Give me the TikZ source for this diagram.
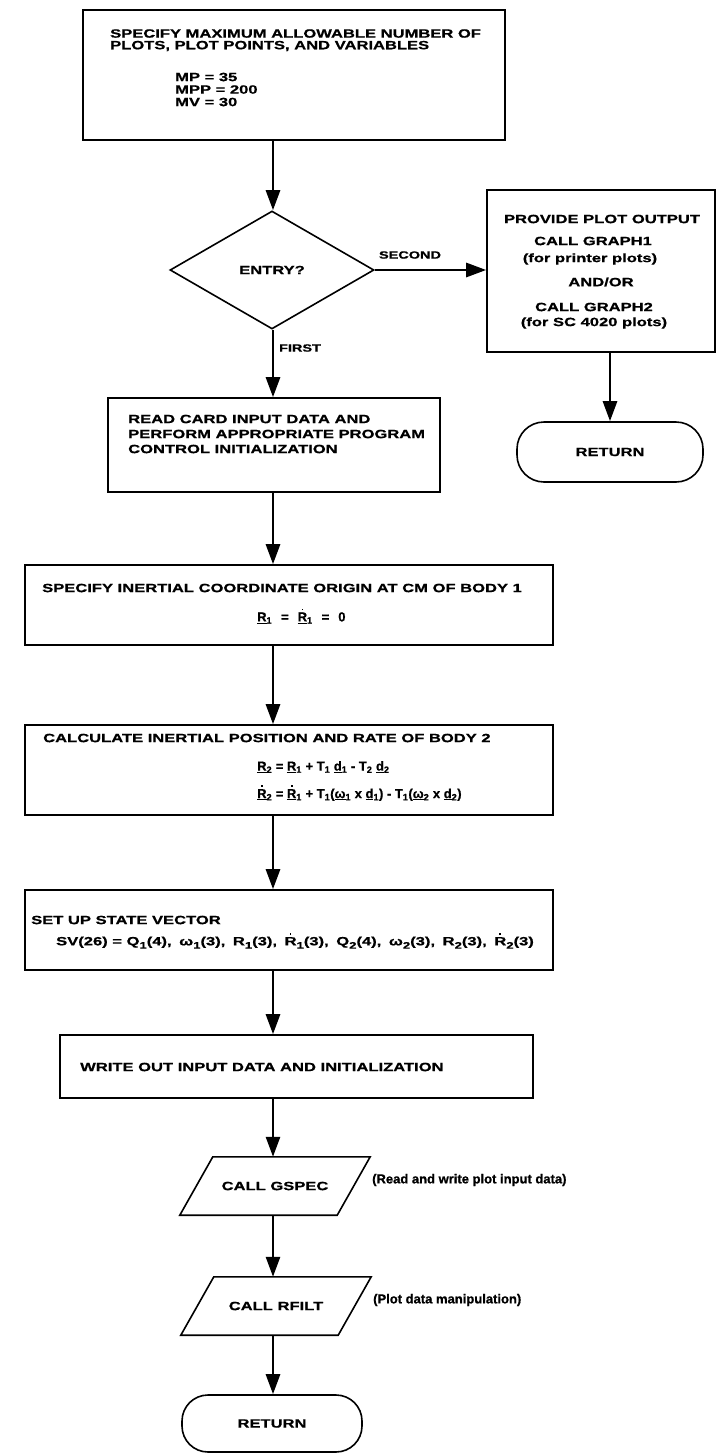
\documentclass[tikz,border=0pt]{standalone}
\usepackage{fontspec}
\setmainfont{Liberation Sans}[FakeStretch=1.38, BoldFeatures={FakeBold=0.8}]
\newfontfamily\plainfont{Liberation Sans}[BoldFeatures={FakeBold=0.8}]
\usetikzlibrary{arrows.meta,shapes.geometric,calc}
\newcommand\dotR{\leavevmode\setbox0\hbox{R}\rlap{\hbox to\wd0{\hss\raisebox{0.86em}{\rule{1.7pt}{1.7pt}}\hss}}R}
\newcommand\sub[1]{\textsubscript{#1}}
\newcommand\bsub[1]{\raisebox{-0.28em}{\fontsize{9.5}{10}\selectfont #1}}
\begin{document}
\begin{tikzpicture}[x=1pt,y=-1pt,
  font=\fontsize{12}{14}\selectfont\bfseries,
  box/.style={draw, line width=1.6pt, inner sep=0pt},
  flow/.style={line width=2.7pt, -{Triangle[length=20pt,width=14pt]}},
  txt/.style={inner sep=0pt, anchor=west},
  ctxt/.style={inner sep=0pt},
  small/.style={font=\fontsize{10.5}{12}\selectfont\bfseries},
  plain/.style={font=\plainfont\fontsize{13}{15}\selectfont\bfseries},
  plot/.style={line width=1.6pt}
]
\fill[white] (0,0) rectangle (719,1454);
\useasboundingbox (0,0) rectangle (719,1454);
\coordinate (ax) at (273,0);

% box 1
\node[box, minimum width=422, minimum height=130] (b1) at (294,75) {};
\node[txt] (b1t1) at (110,33.5) {SPECIFY MAXIMUM ALLOWABLE NUMBER OF};
\node[txt] (b1t2) at (110,46) {PLOTS, PLOT POINTS, AND VARIABLES};
\node[txt] (b1t3) at (175,77) {MP = 35};
\node[txt] (b1t4) at (175,89.5) {MPP = 200};
\node[txt] (b1t5) at (175,102) {MV = 30};

% decision
\node[box, diamond, minimum width=204, minimum height=118] (d) at (272,270) {ENTRY?};
\node[ctxt, small] (sec) at (410,255) {SECOND};
\node[ctxt, small] (fst) at (300,348) {FIRST};

% plot output box
\node[box, minimum width=228, minimum height=162] (pb) at (601,271) {};
\node[ctxt] (pbt1) at (602,219) {PROVIDE PLOT OUTPUT};
\node[ctxt] (pbt2) at (593,241) {CALL GRAPH1};
\node[ctxt] (pbt3) at (590,259) {(for printer plots)};
\node[ctxt] (pbt4) at (601,282) {AND/OR};
\node[ctxt] (pbt5) at (594,307) {CALL GRAPH2};
\node[ctxt] (pbt6) at (594,323) {(for SC 4020 plots)};
\node[box, rounded corners=27pt, minimum width=186, minimum height=60] (r1) at (610,452) {RETURN};

% box 2
\node[box, minimum width=332, minimum height=94] (b2) at (274,445) {};
\node[txt] (b2t1) at (128,419) {READ CARD INPUT DATA AND};
\node[txt] (b2t2) at (128,434) {PERFORM APPROPRIATE PROGRAM};
\node[txt] (b2t3) at (128,449) {CONTROL INITIALIZATION};

% box 3
\node[box, minimum width=528, minimum height=80] (b3) at (289,605) {};
\node[txt] (b3t1) at (42,588) {SPECIFY INERTIAL COORDINATE ORIGIN AT CM OF BODY 1};
\node[txt, plain] (b3t2) at (257,616) {\underline{R}\sub{1}\hspace{9pt}=\hspace{9pt}\underline{\dotR}\sub{1}\hspace{9pt}=\hspace{9pt}0};

% box 4
\node[box, minimum width=528, minimum height=90] (b4) at (289,770) {};
\node[txt] (b4t1) at (43,738) {CALCULATE INERTIAL POSITION AND RATE OF BODY 2};
\node[txt, plain] (b4t2) at (257,767) {\underline{R}\sub{2} = \underline{R}\sub{1} + T\sub{1} \underline{d}\sub{1} - T\sub{2} \underline{d}\sub{2}};
\node[txt, plain] (b4t3) at (257,793) {\underline{\dotR}\sub{2} = \underline{\dotR}\sub{1} + T\sub{1}(\underline{ω}\sub{1} x \underline{d}\sub{1}) - T\sub{1}(\underline{ω}\sub{2} x \underline{d}\sub{2})};

% box 5
\node[box, minimum width=528, minimum height=80] (b5) at (289,930) {};
\node[txt] (b5t1) at (31,920) {SET UP STATE VECTOR};
\node[txt] (b5t2) at (56,941) {SV(26) = Q\bsub{1}(4),\hspace{3pt} ω\bsub{1}(3),\hspace{3pt} R\bsub{1}(3),\hspace{3pt} \dotR\bsub{1}(3),\hspace{3pt} Q\bsub{2}(4),\hspace{3pt} ω\bsub{2}(3),\hspace{3pt} R\bsub{2}(3),\hspace{3pt} \dotR\bsub{2}(3)};

% box 6
\node[box, minimum width=473, minimum height=63] (b6) at (296.5,1066.5) {};
\node[txt] (b6t) at (80,1067) {WRITE OUT INPUT DATA AND INITIALIZATION};

% parallelograms
\node[inner sep=0pt, minimum width=190, minimum height=58] (gs) at (275,1186) {CALL GSPEC};
\draw[plot] (gs.south west) -- ($(gs.south east)+(-33,0)$) -- (gs.north east) -- ($(gs.north west)+(33,0)$) -- cycle;
\node[txt, plain] (gsl) at (372,1180) {(Read and write plot input data)};
\node[inner sep=0pt, minimum width=190, minimum height=58] (rf) at (276,1306) {CALL RFILT};
\draw[plot] (rf.south west) -- ($(rf.south east)+(-33,0)$) -- (rf.north east) -- ($(rf.north west)+(33,0)$) -- cycle;
\node[txt, plain] (rfl) at (373,1300) {(Plot data manipulation)};

% return
\node[box, rounded corners=26pt, minimum width=180, minimum height=57] (r2) at (272,1423.5) {RETURN};

% connectors
\draw[flow] (ax |- b1.south) -- (ax |- d.north);
\draw[flow] (d.east) -- (d.east -| pb.west);
\draw[flow] (pb.south -| r1.north) -- (r1.north);
\draw[flow] (ax |- d.south) -- (ax |- b2.north);
\draw[flow] (ax |- b2.south) -- (ax |- b3.north);
\draw[flow] (ax |- b3.south) -- (ax |- b4.north);
\draw[flow] (ax |- b4.south) -- (ax |- b5.north);
\draw[flow] (ax |- b5.south) -- (ax |- b6.north);
\draw[flow] (ax |- b6.south) -- (ax |- gs.north);
\draw[flow] (ax |- gs.south) -- (ax |- rf.north);
\draw[flow] (ax |- rf.south) -- (ax |- r2.north);
\end{tikzpicture}
\end{document}
